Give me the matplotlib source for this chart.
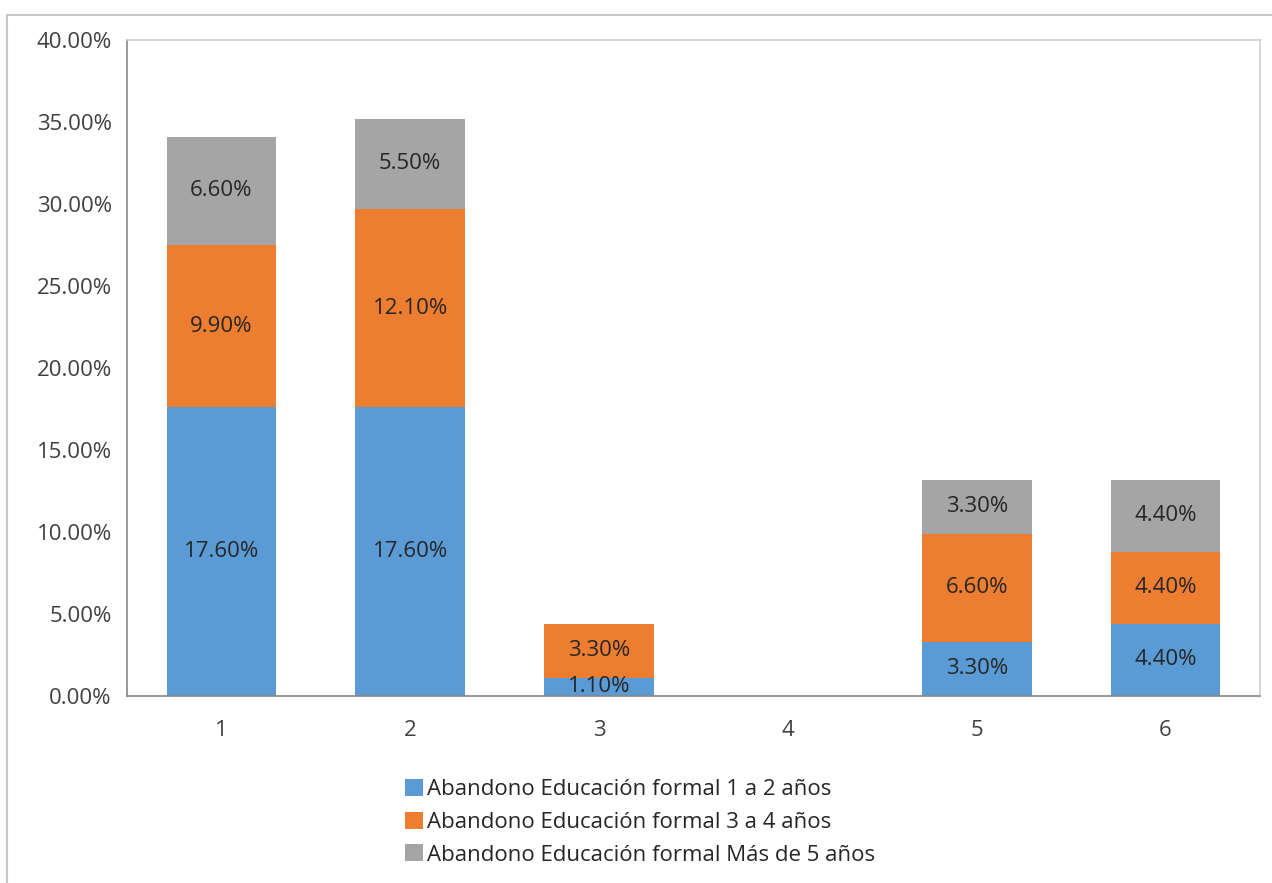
import matplotlib
matplotlib.use("Agg")
import matplotlib.pyplot as plt
from matplotlib.patches import Rectangle
from matplotlib.ticker import FuncFormatter

categories = ["1", "2", "3", "4", "5", "6"]
s1 = [17.6, 17.6, 1.1, 0.0, 3.3, 4.4]
s2 = [9.9, 12.1, 3.3, 0.0, 6.6, 4.4]
s3 = [6.6, 5.5, 0.0, 0.0, 3.3, 4.4]
series_names = ["Abandono Educación formal 1 a 2 años",
                "Abandono Educación formal 3 a 4 años",
                "Abandono Educación formal Más de 5 años"]
colors = ["#5B9BD5", "#ED7D31", "#A5A5A5"]

plt.rcParams['font.family'] = ['Open Sans', 'DejaVu Sans']
FS = 16
W, H = 1272, 883
fig = plt.figure(figsize=(W/100, H/100), dpi=100)
ax = fig.add_axes([127/W, 1-696/H, (1260-127)/W, (696-40)/H])

x = list(range(1, len(categories)+1))
bottom = [0.0]*len(x)
for vals, name, c in zip([s1, s2, s3], series_names, colors):
    ax.bar(x, vals, width=0.58, bottom=bottom, color=c, label=name, zorder=2)
    for xi, v, b in zip(x, vals, bottom):
        if v > 0:
            ax.text(xi, b + v/2, f"{v:.2f}%", ha="center", va="center",
                    fontsize=FS, color="#262626", zorder=3)
    bottom = [b + v for b, v in zip(bottom, vals)]

ax.set_xlim(0.5, 6.5)
ax.set_ylim(0, 40)
ax.set_yticks(range(0, 41, 5))
ax.yaxis.set_major_formatter(FuncFormatter(lambda v, p: f"{v:.2f}%"))
ax.set_xticks(x)
ax.set_xticklabels(categories)
ax.tick_params(axis="both", length=0, labelsize=FS, colors="#404040")
ax.tick_params(axis="y", pad=11)
ax.tick_params(axis="x", pad=17)
for side in ["top", "right"]:
    ax.spines[side].set_color("#D0D0D0")
    ax.spines[side].set_linewidth(1.2)
for side in ["left", "bottom"]:
    ax.spines[side].set_color("#888888")
    ax.spines[side].set_linewidth(1.2)

leg = fig.legend(loc="upper left", bbox_to_anchor=(396/W, 1-770/H), frameon=False,
                 fontsize=FS, handlelength=0.8, handleheight=0.8, handletextpad=0.2,
                 labelspacing=0.52, borderaxespad=0)
for t in leg.get_texts():
    t.set_color("#262626")

fig.patches.append(Rectangle((7/W, -0.1), 1.2, 1-15/H+0.1, transform=fig.transFigure,
                             fill=False, edgecolor="#C8C8C8", linewidth=1.5))
fig.savefig("out.png", dpi=100)
